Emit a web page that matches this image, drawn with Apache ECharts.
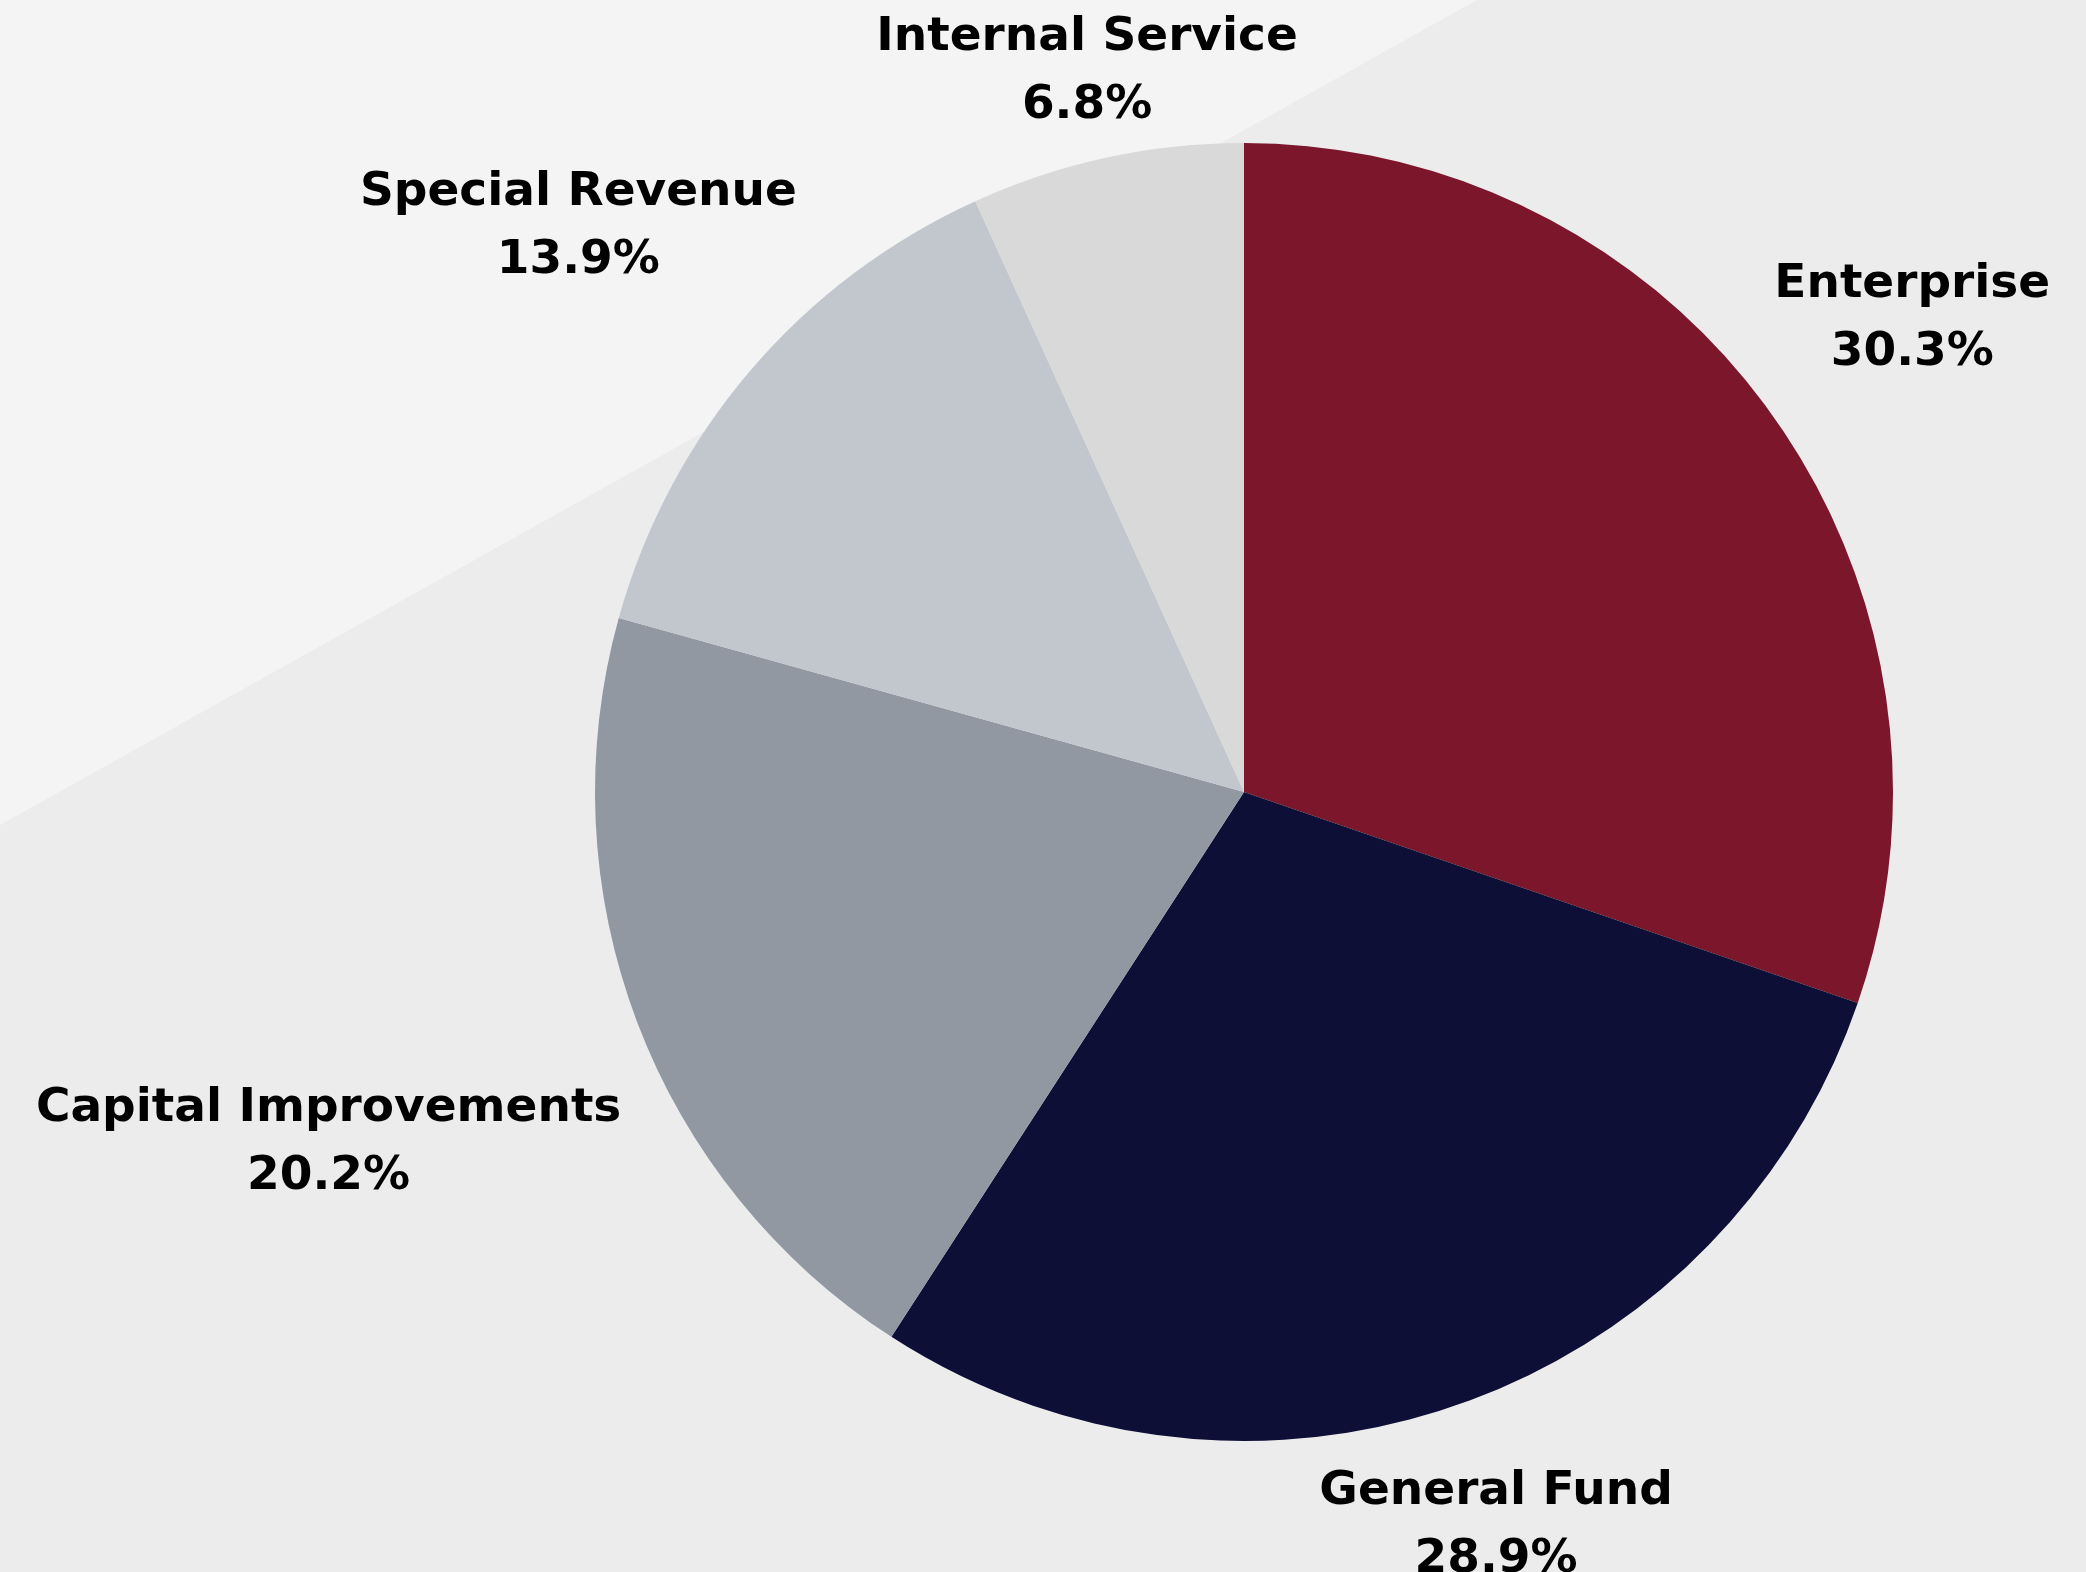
<!DOCTYPE html>
<html>
<head>
<meta charset="utf-8">
<script src="https://cdn.jsdelivr.net/npm/echarts@6/dist/echarts.min.js"></script>
<style>
  html, body { margin: 0; padding: 0; background: #ececec; }
  #chart { width: 2086px; height: 1572px; }
</style>
</head>
<body>
<div id="chart"></div>
<script>
  // fund categories, clockwise from 12 o'clock
  const categories = ['Enterprise', 'General Fund', 'Capital Improvements', 'Special Revenue', 'Internal Service']
  const shares = [30.3, 28.9, 20.2, 13.9, 6.8]
  const sliceColors = ['#7b162b', '#0e0f37', '#9198a2', '#c2c7ce', '#d9d9d9']

  // pie geometry (px) and how far out each label sits from the centre
  const cx = 1244
  const cy = 792
  const radius = 649
  const labelDist = [821, 772, 979, 876, 741]

  const total = shares.reduce((a, b) => a + b, 0)
  const midAngle = []
  let acc = 0
  shares.forEach(v => {
    midAngle.push((acc + v / 2) / total * Math.PI * 2)
    acc += v
  })

  const chart = echarts.init(document.getElementById('chart'))
  chart.setOption({
    backgroundColor: '#ececec',
    animation: false,
    graphic: [
      {
        type: 'polygon',
        z: -10,
        silent: true,
        shape: { points: [[0, 0], [1477, 0], [0, 825]] },
        style: { fill: '#f4f4f4' }
      }
    ],
    series: [
      {
        type: 'pie',
        center: [cx, cy],
        radius: radius,
        startAngle: 90,
        clockwise: true,
        data: categories.map((name, i) => ({
          name: name,
          value: shares[i],
          itemStyle: { color: sliceColors[i] }
        })),
        itemStyle: { borderWidth: 0 },
        emphasis: { disabled: true },
        labelLine: { show: false },
        label: {
          show: true,
          position: 'outside',
          overflow: 'none',
          formatter: p => p.name + '\n' + p.value.toFixed(1) + '%',
          color: '#000',
          fontFamily: '"DejaVu Sans", sans-serif',
          fontWeight: 'bold',
          fontSize: 47,
          lineHeight: 68,
          align: 'center'
        },
        labelLayout: function (params) {
          const i = params.dataIndex
          const a = midAngle[i]
          return {
            x: cx + labelDist[i] * Math.sin(a),
            y: cy - labelDist[i] * Math.cos(a) + 4,
            align: 'center',
            verticalAlign: 'middle'
          }
        }
      }
    ]
  })
</script>
</body>
</html>
